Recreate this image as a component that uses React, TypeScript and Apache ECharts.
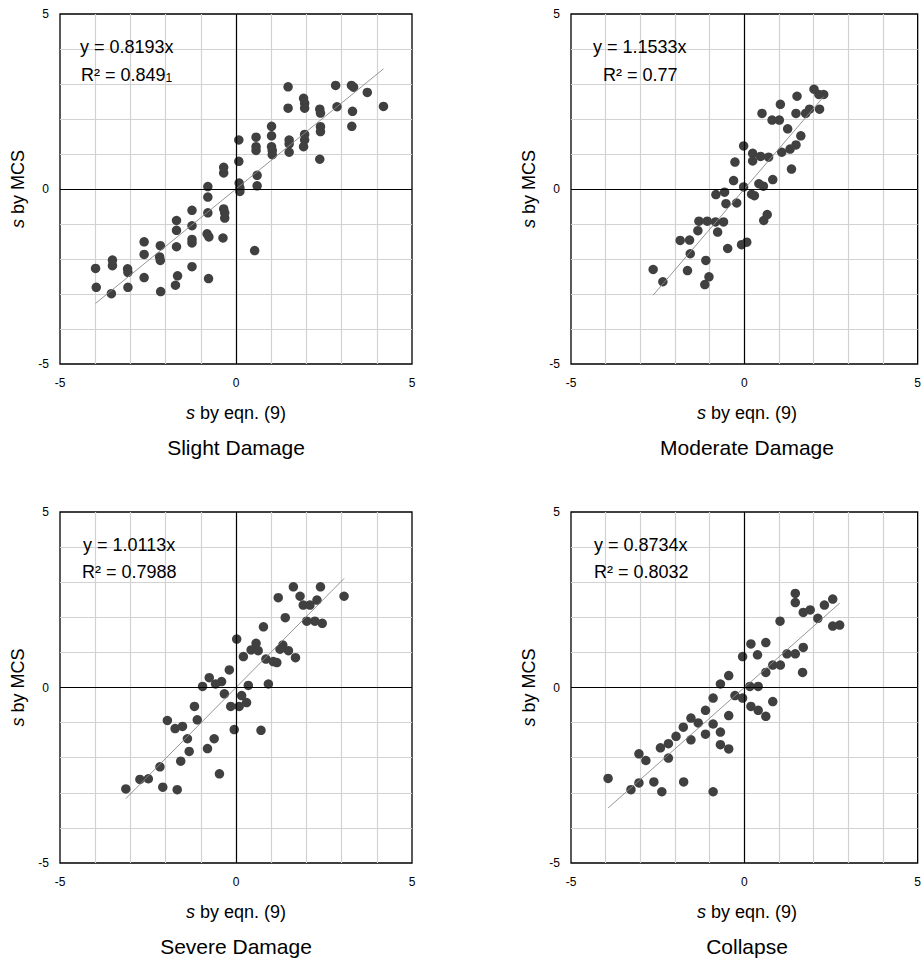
import React, { useEffect, useRef } from 'react';
import * as echarts from 'echarts';

const FONT = '"Liberation Sans", Arial, Helvetica, sans-serif';

// Points [s by eqn. (9), s by MCS]
const slightPoints: number[][] = [
  [1.48, 2.92], [1.48, 2.31], [1.92, 2.59], [1.95, 2.45], [1.95, 2.31], [2.38, 2.28], [2.40, 2.17],
  [2.83, 2.96], [2.87, 2.35], [3.28, 2.96], [3.34, 2.91], [3.73, 2.76], [4.19, 2.36], [3.31, 2.22],
  [3.29, 1.79], [1.01, 1.79], [1.01, 1.52], [0.57, 1.48], [0.08, 1.40], [0.57, 1.21], [0.57, 1.10],
  [1.01, 1.21], [1.03, 1.10], [1.03, 0.98], [1.51, 1.40], [1.51, 1.29], [1.51, 1.05], [1.95, 1.56],
  [1.95, 1.40], [1.92, 1.21], [2.40, 1.78], [2.40, 1.64], [2.38, 0.85], [0.08, 0.79], [0.60, 0.39],
  [0.60, 0.09], [0.09, 0.17], [0.11, 0.03], [0.11, -0.07], [0.53, -1.76], [-0.35, 0.62], [-0.35, 0.46],
  [-0.80, 0.07], [-0.80, -0.23], [-0.80, -0.68], [-1.25, -0.61], [-0.35, -0.57], [-0.32, -0.68],
  [-0.32, -0.83], [-1.69, -0.90], [-1.69, -1.18], [-1.25, -1.05], [-1.25, -1.44], [-1.25, -1.54],
  [-0.82, -1.28], [-0.77, -1.37], [-0.37, -1.40], [-2.61, -1.51], [-2.61, -1.87], [-2.15, -1.62],
  [-2.17, -1.94], [-2.15, -2.04], [-1.69, -1.65], [-1.25, -2.22], [-3.51, -2.03], [-3.51, -2.19],
  [-3.99, -2.27], [-3.08, -2.28], [-3.07, -2.38], [-2.61, -2.53], [-1.66, -2.48], [-3.97, -2.81],
  [-3.54, -2.99], [-3.07, -2.81], [-2.14, -2.93], [-1.72, -2.75], [-0.78, -2.56],
];

const moderatePoints: number[][] = [
  [-0.02, 1.23], [0.24, 1.02], [-0.27, 0.77], [0.24, 0.80], [-0.31, 0.24], [-0.02, 0.06], [-0.57, -0.09],
  [-0.82, -0.16], [0.47, 0.93], [0.70, 0.91], [1.08, 1.05], [1.36, 0.57], [1.32, 1.14], [1.49, 1.26],
  [1.63, 1.52], [1.25, 1.72], [0.51, 2.16], [0.80, 1.97], [1.01, 1.97], [1.04, 2.42], [1.52, 2.65],
  [1.49, 2.16], [1.77, 2.16], [1.88, 2.28], [2.17, 2.28], [2.01, 2.85], [2.15, 2.70], [2.29, 2.70],
  [0.82, 0.27], [0.42, 0.15], [0.55, 0.08], [0.21, -0.15], [0.29, -0.19], [-0.53, -0.42], [-0.22, -0.40],
  [0.66, -0.73], [0.56, -0.90], [-1.31, -0.92], [-1.07, -0.92], [-0.83, -0.94], [-0.60, -0.94],
  [-1.34, -1.19], [-0.77, -1.23], [-1.85, -1.47], [-1.58, -1.46], [-1.56, -1.85], [-0.48, -1.70],
  [-0.08, -1.59], [0.07, -1.52], [-1.11, -2.04], [-2.63, -2.30], [-1.64, -2.33], [-2.35, -2.65],
  [-1.02, -2.51], [-1.14, -2.73],
];

const severePoints: number[][] = [
  [1.63, 2.87], [2.40, 2.87], [1.20, 2.56], [1.82, 2.60], [3.07, 2.60], [1.91, 2.35], [2.10, 2.35],
  [2.30, 2.49], [1.40, 1.99], [2.01, 1.89], [2.24, 1.89], [2.45, 1.83], [0.78, 1.73], [0.02, 1.38],
  [0.57, 1.26], [0.43, 1.07], [0.63, 1.05], [1.33, 1.21], [1.25, 1.09], [1.49, 1.05], [0.21, 0.88],
  [0.85, 0.81], [1.06, 0.74], [1.16, 0.71], [1.69, 0.85], [-0.19, 0.50], [-0.76, 0.28], [-0.58, 0.10],
  [-0.41, 0.17], [-0.95, 0.03], [0.35, 0.06], [0.92, 0.10], [-0.33, -0.18], [0.16, -0.23], [0.30, -0.43],
  [-0.15, -0.54], [0.09, -0.54], [-1.18, -0.54], [-1.10, -0.92], [-1.95, -0.94], [-1.73, -1.17],
  [-1.52, -1.11], [-0.05, -1.20], [0.71, -1.22], [-1.38, -1.46], [-0.62, -1.46], [-0.81, -1.74],
  [-1.33, -1.82], [-1.57, -2.10], [-2.16, -2.26], [-0.47, -2.46], [-2.73, -2.62], [-2.49, -2.60],
  [-3.13, -2.89], [-2.08, -2.84], [-1.67, -2.91],
];

const collapsePoints: number[][] = [
  [1.47, 2.68], [1.47, 2.42], [2.55, 2.52], [2.31, 2.35], [1.70, 2.14], [1.90, 2.21], [2.12, 1.97],
  [2.55, 1.75], [2.75, 1.78], [1.03, 1.89], [0.19, 1.24], [0.62, 1.28], [-0.05, 0.88], [0.38, 0.93],
  [1.23, 0.96], [1.47, 0.96], [1.70, 1.14], [0.82, 0.64], [1.04, 0.64], [0.62, 0.43], [1.68, 0.43],
  [-0.45, 0.34], [-0.69, 0.10], [0.16, 0.03], [0.40, 0.03], [-0.27, -0.23], [-0.05, -0.30], [-0.90, -0.30],
  [0.82, -0.40], [0.19, -0.54], [0.40, -0.65], [0.62, -0.82], [-1.12, -0.65], [-0.45, -0.80],
  [-1.54, -0.87], [-1.33, -1.01], [-0.90, -1.04], [-1.76, -1.13], [-0.69, -1.27], [-1.97, -1.39],
  [-1.12, -1.33], [-1.54, -1.49], [-2.19, -1.60], [-2.42, -1.72], [-0.69, -1.63], [-0.45, -1.75],
  [-3.04, -1.89], [-2.84, -2.08], [-2.19, -2.01], [-3.93, -2.59], [-3.04, -2.72], [-3.27, -2.91],
  [-2.61, -2.69], [-1.75, -2.69], [-2.38, -2.97], [-0.90, -2.97],
];

const panelTitles = ['Slight Damage', 'Moderate Damage', 'Severe Damage', 'Collapse'];
const slopes = [0.8193, 1.1533, 1.0113, 0.8734];
const slopeLabels = ['y = 0.8193x', 'y = 1.1533x', 'y = 1.0113x', 'y = 0.8734x'];
const r2Labels = ['0.849', '0.77', '0.7988', '0.8032'];
const r2Tails = ['1', '', '', ''];
const tickLabels = [-5, 0, 5];
const axisMin = -5;
const axisMax = 5;
const xTitle = ' by eqn. (9)';
const yTitle = ' by MCS';

const allPoints = [slightPoints, moderatePoints, severePoints, collapsePoints];

const grids = [
  { left: 60, top: 14, width: 352, height: 350 },
  { left: 571, top: 14, width: 352, height: 350 },
  { left: 60, top: 512, width: 352, height: 351 },
  { left: 571, top: 512, width: 352, height: 351 },
];
const eqPos = [
  { x1: 80, y1: 47, x2: 81, y2: 75 },
  { x1: 593, y1: 47, x2: 603, y2: 75 },
  { x1: 83, y1: 545, x2: 82, y2: 572 },
  { x1: 594, y1: 545, x2: 594, y2: 572 },
];

export default function App() {
  const ref = useRef<HTMLDivElement>(null);
  useEffect(() => {
    if (!ref.current) return;
    const chart = echarts.init(ref.current, undefined, { renderer: 'svg' });

    const axisCommon = (gi: number) => ({
      type: 'value',
      gridIndex: gi,
      min: axisMin,
      max: axisMax,
      interval: 1,
      axisLine: { show: false },
      axisTick: { show: false },
      splitLine: {
        show: true,
        showMinLine: false,
        showMaxLine: false,
        lineStyle: { color: '#d2d2d2', width: 1.2 },
      },
      axisLabel: {
        color: '#000',
        fontSize: 12,
        fontFamily: FONT,
        showMinLabel: true,
        showMaxLabel: true,
        formatter: (v: number) => (tickLabels.includes(v) ? String(v) : ''),
      },
    });

    const series: any[] = [];
    const graphic: any[] = [];
    allPoints.forEach((pts, i) => {
      const xs = pts.map((p) => p[0]);
      const xmin = Math.min(...xs);
      const xmax = Math.max(...xs);
      series.push({
        type: 'scatter',
        xAxisIndex: i,
        yAxisIndex: i,
        data: pts,
        symbol: 'circle',
        symbolSize: 9.5,
        itemStyle: { color: '#404040', opacity: 1 },
        z: 3,
        silent: true,
        markLine: {
          silent: true,
          symbol: ['none', 'none'],
          label: { show: false },
          lineStyle: { color: '#000', width: 1.2, type: 'solid' },
          data: [{ xAxis: 0 }, { yAxis: 0 }],
        },
      });
      series.push({
        type: 'line',
        xAxisIndex: i,
        yAxisIndex: i,
        data: [
          [xmin, slopes[i] * xmin],
          [xmax, slopes[i] * xmax],
        ],
        symbol: 'none',
        lineStyle: { color: '#8a8a8a', width: 0.9 },
        z: 4,
        silent: true,
      });

      const g = grids[i];
      const cx = g.left + g.width / 2;
      const cy = g.top + g.height / 2;
      const bottom = g.top + g.height;
      const richTitle = {
        i: { fontStyle: 'italic', fontSize: 18, fontFamily: FONT, fill: '#000' },
        n: { fontSize: 18, fontFamily: FONT, fill: '#000' },
      };
      graphic.push({
        type: 'text',
        x: cx,
        y: bottom + 49,
        style: { text: `{i|s}{n|${xTitle}}`, rich: richTitle, align: 'center', verticalAlign: 'middle' },
      });
      graphic.push({
        type: 'text',
        x: g.left - 42,
        y: cy,
        rotation: Math.PI / 2,
        style: { text: `{i|s}{n|${yTitle}}`, rich: richTitle, align: 'center', verticalAlign: 'middle' },
      });
      graphic.push({
        type: 'text',
        x: cx,
        y: bottom + 83,
        style: {
          text: panelTitles[i],
          fontSize: 21,
          fontFamily: FONT,
          fill: '#000',
          align: 'center',
          verticalAlign: 'middle',
        },
      });
      const p = eqPos[i];
      graphic.push({
        type: 'text',
        x: p.x1,
        y: p.y1,
        z: 10,
        style: {
          text: slopeLabels[i],
          fontSize: 18,
          fontFamily: FONT,
          fill: '#000',
          align: 'left',
          verticalAlign: 'middle',
        },
      });
      graphic.push({
        type: 'text',
        x: p.x2,
        y: p.y2,
        z: 10,
        style: {
          text: `{a|R² = ${r2Labels[i]}}` + (r2Tails[i] ? `{t|${r2Tails[i]}}` : ''),
          rich: {
            a: { fontSize: 18, fontFamily: FONT, fill: '#000', verticalAlign: 'bottom' },
            t: { fontSize: 12, fontFamily: FONT, fill: '#000', verticalAlign: 'bottom' },
          },
          align: 'left',
          verticalAlign: 'middle',
        },
      });
    });

    chart.setOption({
      animation: false,
      backgroundColor: '#fff',
      grid: grids.map((g) => ({
        ...g,
        show: true,
        borderColor: '#000',
        borderWidth: 1.3,
        backgroundColor: 'transparent',
        containLabel: false,
      })),
      xAxis: grids.map((_, i) => ({
        ...axisCommon(i),
        axisLabel: { ...axisCommon(i).axisLabel, margin: 13 },
      })),
      yAxis: grids.map((_, i) => ({
        ...axisCommon(i),
        axisLabel: { ...axisCommon(i).axisLabel, margin: 11 },
      })),
      series,
      graphic,
    });
    return () => chart.dispose();
  }, []);
  return (
    <div
      ref={ref}
      style={{ position: 'fixed', left: 0, top: 0, width: 924, height: 960, background: '#fff' }}
    />
  );
}
